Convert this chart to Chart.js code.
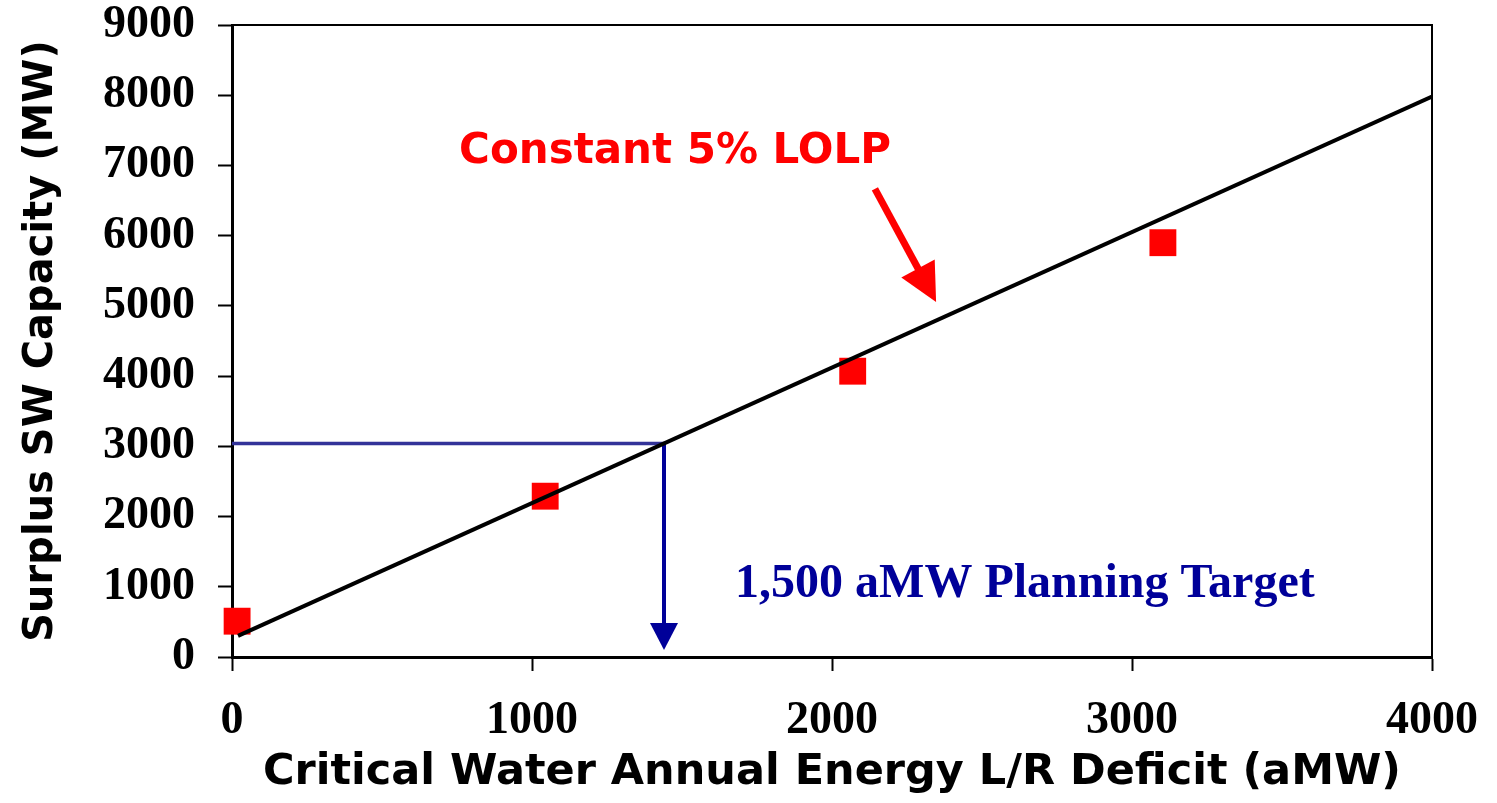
<!DOCTYPE html>
<html>
<head>
<meta charset="utf-8">
<script src="https://cdn.jsdelivr.net/npm/chart.js@4"></script>
<style>
  html, body { margin: 0; padding: 0; background: #fff; }
  #wrap { width: 1497px; height: 803px; position: relative; }
</style>
</head>
<body>
<div id="wrap"><canvas id="chart"></canvas></div>
<script>
// observed LOLP study points (aMW deficit vs MW surplus capacity)
const studyX = [17, 1044, 2069, 3103];
const studyY = [510, 2290, 4070, 5900];

// constant 5% LOLP fitted line
const fitX = [20, 4000];
const fitY = [300, 7980];

// planning target lookup lines
const targetX = [0, 1440];
const targetY = [3040, 3040];
const dropX = [1440, 1440];
const dropY = [3040, 484];
const dropTipY = 100;

// red callout arrow (start -> tip)
const calloutX = [2143, 2347];
const calloutY = [6667, 5057];

const xTicks = [0, 1000, 2000, 3000, 4000];
const yTicks = [0, 1000, 2000, 3000, 4000, 5000, 6000, 7000, 8000, 9000];

const serif = "'Liberation Serif', 'Times New Roman', serif";
const comic = "'Comic Sans MS', 'DejaVu Sans', sans-serif";
const navy = '#000099';

const toPoints = (xs, ys) => xs.map((x, i) => ({ x: x, y: ys[i] }));

// frame, arrows and labels drawn from scale positions
const annotate = {
  id: 'annotate',
  afterDatasetsDraw(chart) {
    const ctx = chart.ctx;
    const xs = chart.scales.x, ys = chart.scales.y;
    const area = chart.chartArea;
    ctx.save();

    // top + right frame
    ctx.strokeStyle = '#000';
    ctx.lineWidth = 2;
    ctx.beginPath();
    ctx.moveTo(area.left, area.top);
    ctx.lineTo(area.right, area.top);
    ctx.lineTo(area.right, area.bottom);
    ctx.stroke();

    // blue arrow head
    const bx = xs.getPixelForValue(dropX[1]);
    const by = ys.getPixelForValue(dropY[1]);
    const ty = ys.getPixelForValue(dropTipY);
    ctx.fillStyle = navy;
    ctx.beginPath();
    ctx.moveTo(bx - 14, by);
    ctx.lineTo(bx + 14, by);
    ctx.lineTo(bx, ty);
    ctx.closePath();
    ctx.fill();

    // red callout arrow
    const p0 = { x: xs.getPixelForValue(calloutX[0]), y: ys.getPixelForValue(calloutY[0]) };
    const p1 = { x: xs.getPixelForValue(calloutX[1]), y: ys.getPixelForValue(calloutY[1]) };
    const len = Math.hypot(p1.x - p0.x, p1.y - p0.y);
    const ux = (p1.x - p0.x) / len, uy = (p1.y - p0.y) / len;
    const headLen = 38, headHalf = 19;
    const hx = p1.x - ux * headLen, hy = p1.y - uy * headLen;
    ctx.strokeStyle = '#ff0000';
    ctx.fillStyle = '#ff0000';
    ctx.lineWidth = 7;
    ctx.beginPath();
    ctx.moveTo(p0.x, p0.y);
    ctx.lineTo(hx + ux * 2, hy + uy * 2);
    ctx.stroke();
    ctx.beginPath();
    ctx.moveTo(p1.x, p1.y);
    ctx.lineTo(hx - uy * headHalf, hy + ux * headHalf);
    ctx.lineTo(hx + uy * headHalf, hy - ux * headHalf);
    ctx.closePath();
    ctx.fill();

    // labels
    ctx.textAlign = 'center';
    ctx.textBaseline = 'alphabetic';
    ctx.fillStyle = '#ff0000';
    ctx.font = 'bold 42px ' + comic;
    ctx.fillText('Constant 5% LOLP', xs.getPixelForValue(1477), ys.getPixelForValue(7037));

    ctx.fillStyle = navy;
    ctx.font = 'bold 48px ' + serif;
    ctx.fillText('1,500 aMW Planning Target', xs.getPixelForValue(2643), ys.getPixelForValue(855));

    ctx.restore();
  }
};

const tickFont = { family: serif, size: 46, weight: 'bold' };

// keep the plot box where the layout padding puts it
const noLabelPadding = s => {
  s.paddingTop = 0;
  s.paddingBottom = 0;
  s.paddingLeft = 0;
  s.paddingRight = 0;
};

new Chart(document.getElementById('chart'), {
  type: 'scatter',
  data: {
    datasets: [
      {
        label: 'Study points',
        data: toPoints(studyX, studyY),
        pointStyle: 'rect',
        pointRadius: 19,
        pointBackgroundColor: '#ff0000',
        pointBorderWidth: 0,
        clip: false,
        order: 2
      },
      {
        label: 'Constant 5% LOLP',
        type: 'line',
        data: toPoints(fitX, fitY),
        borderColor: '#000',
        borderWidth: 4,
        pointRadius: 0,
        order: 0
      },
      {
        label: 'Target level',
        type: 'line',
        data: toPoints(targetX, targetY),
        borderColor: '#333399',
        borderWidth: 3.5,
        pointRadius: 0,
        order: 1
      },
      {
        label: 'Target drop',
        type: 'line',
        data: toPoints(dropX, dropY),
        borderColor: navy,
        borderWidth: 4,
        pointRadius: 0,
        order: 1
      }
    ]
  },
  options: {
    responsive: true,
    maintainAspectRatio: false,
    animation: false,
    layout: { padding: { top: 25, right: 65, left: 0, bottom: 0 } },
    plugins: {
      legend: { display: false },
      tooltip: { enabled: false }
    },
    scales: {
      x: {
        type: 'linear',
        min: 0,
        max: 4000,
        afterFit: s => { s.height = 146; noLabelPadding(s); },
        afterBuildTicks: s => { s.ticks = xTicks.map(v => ({ value: v })); },
        grid: { drawOnChartArea: false, tickLength: 14, tickWidth: 2, color: '#000' },
        border: { display: true, color: '#000', width: 3 },
        ticks: { font: tickFont, color: '#000', padding: 23, maxRotation: 0, callback: v => String(v) },
        title: {
          display: true,
          text: 'Critical Water Annual Energy L/R Deficit (aMW)',
          font: { family: comic, size: 43, weight: 'bold' },
          color: '#000',
          padding: { top: 0, bottom: 4 }
        }
      },
      y: {
        min: 0,
        max: 9000,
        afterFit: s => { s.width = 232; noLabelPadding(s); },
        afterBuildTicks: s => { s.ticks = yTicks.map(v => ({ value: v })); },
        grid: { drawOnChartArea: false, tickLength: 14, tickWidth: 2, color: '#000' },
        border: { display: true, color: '#000', width: 3 },
        ticks: { font: tickFont, color: '#000', padding: 23, callback: v => String(v) },
        title: {
          display: true,
          text: 'Surplus SW Capacity (MW)',
          font: { family: comic, size: 40, weight: 'bold' },
          color: '#000',
          padding: { top: 18, bottom: 0 }
        }
      }
    }
  },
  plugins: [annotate]
});
</script>
</body>
</html>
